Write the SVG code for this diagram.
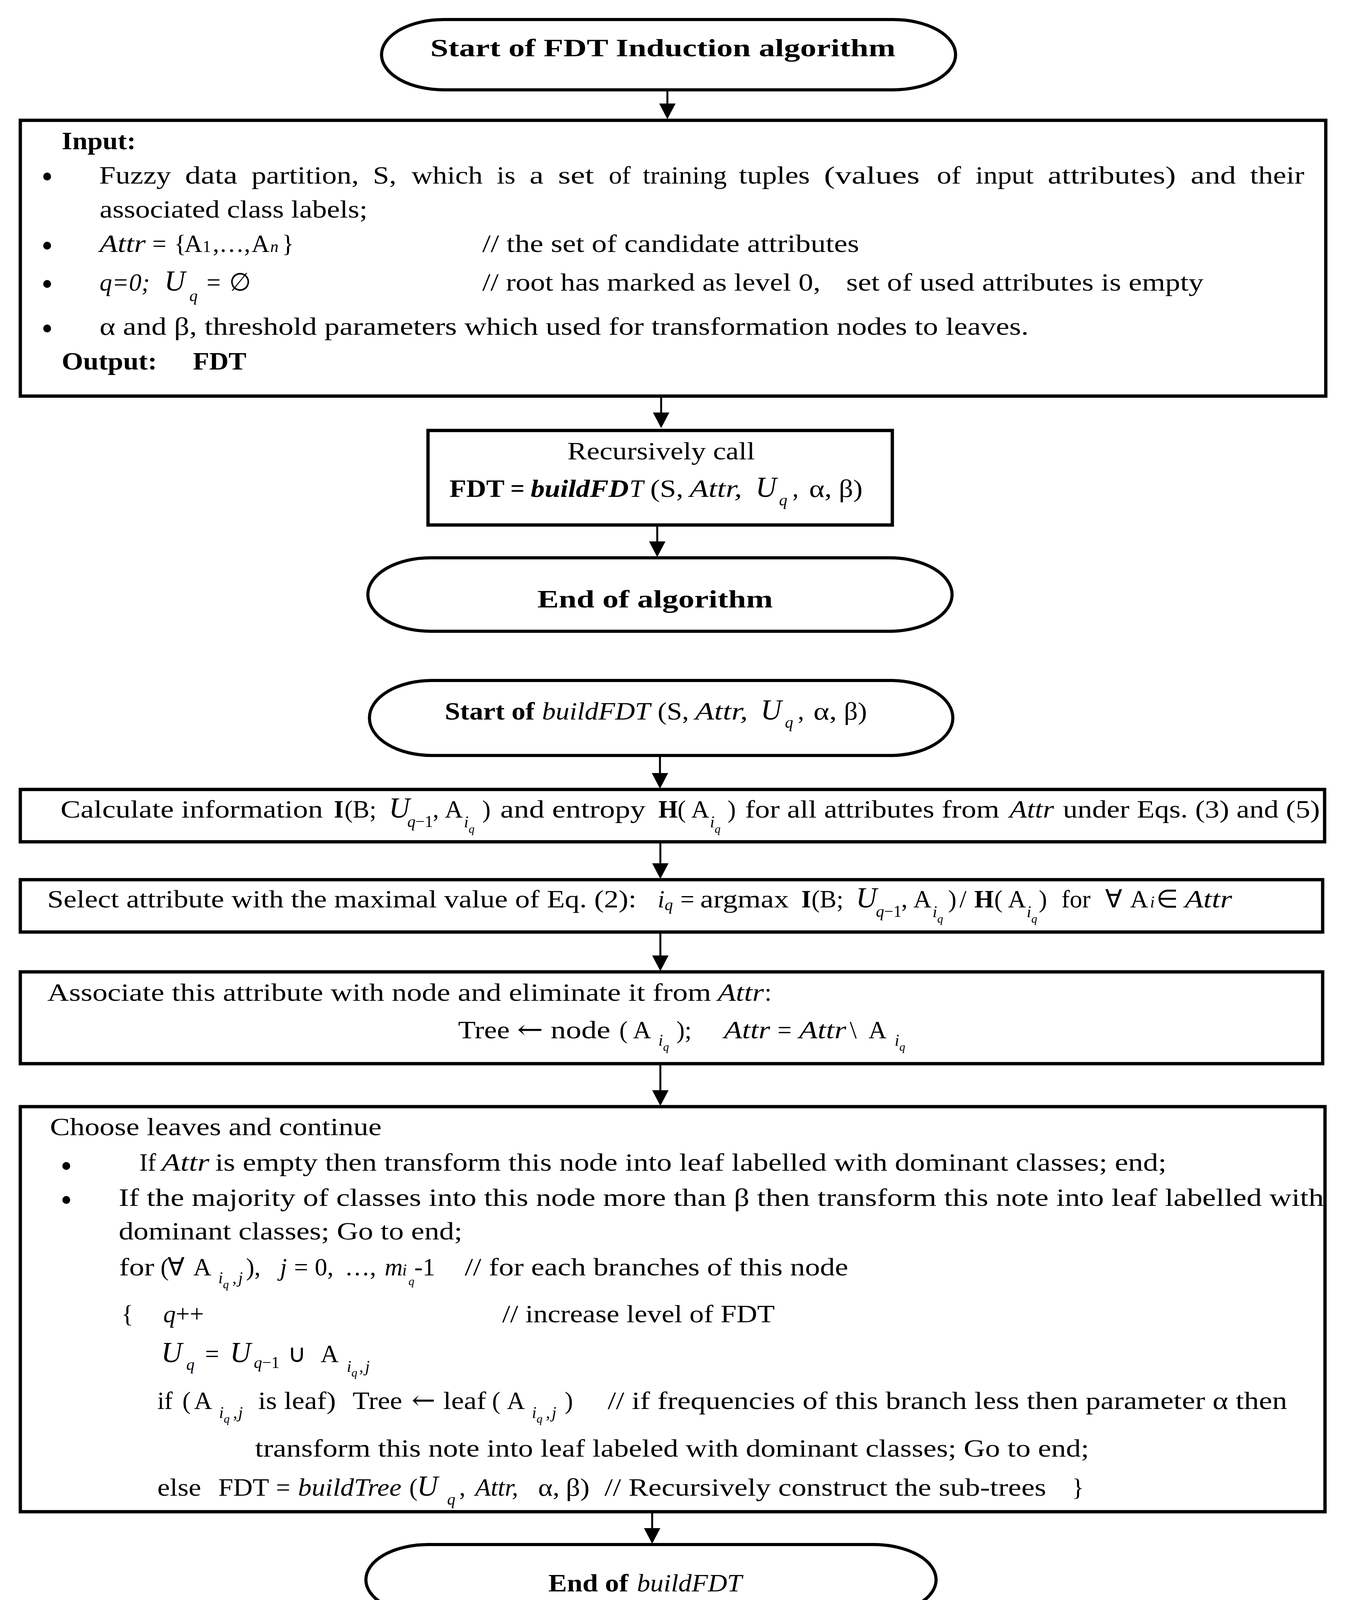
<svg xmlns="http://www.w3.org/2000/svg" width="3457" height="4187" viewBox="0 0 3457 4187">
<defs>
<marker id="ah" markerUnits="userSpaceOnUse" markerWidth="40" markerHeight="42" refX="28" refY="21" orient="auto">
<path d="M0,0 L40,21 L0,42 z" fill="#000"/>
</marker>
<style>
text { font-family: "Liberation Serif", "Times New Roman", serif; font-size: 64px; fill: #000; }
.b { font-weight: bold; }
.i { font-style: italic; }
.bi { font-weight: bold; font-style: italic; }
.s { font-size: 42px; }
.ss { font-size: 30px; }
.U { font-size: 74px; font-style: italic; }
.bul { font-size: 84px; }
.arr { font-family: "DejaVu Serif", "DejaVu Sans", serif; font-size: 66px; }
.box { fill: #fff; stroke: #000; stroke-width: 8.5; }
.term { fill: #fff; stroke: #000; stroke-width: 8; }
.conn { stroke: #000; stroke-width: 5; fill: none; marker-end: url(#ah); }
</style>
</defs>
<rect width="3457" height="4187" fill="#fff"/>

<g id="connectors">
<path class="conn" d="M1709,234 V293"/>
<path class="conn" d="M1693,1018 V1084"/>
<path class="conn" d="M1683,1348 V1414"/>
<path class="conn" d="M1690,1936 V2007"/>
<path class="conn" d="M1691,2159 V2238"/>
<path class="conn" d="M1691,2390 V2474"/>
<path class="conn" d="M1691,2727 V2819"/>
<path class="conn" d="M1670,3874 V3940"/>
</g>

<g id="n1">
<rect class="term" x="977" y="50" width="1470" height="180" rx="160" ry="90"/>
<text class="b" x="1102" y="144" font-size="66" textLength="1191" lengthAdjust="spacingAndGlyphs">Start of FDT Induction algorithm</text>
</g>

<g id="n2">
<rect class="box" x="52" y="308" width="3343" height="706"/>
<text class="b" x="158" y="382" textLength="190" lengthAdjust="spacingAndGlyphs">Input:</text>
<text class="bul" x="106" y="480">•</text>
<g>
<text x="254" y="470" textLength="184" lengthAdjust="spacingAndGlyphs">Fuzzy</text>
<text x="474" y="470" textLength="134" lengthAdjust="spacingAndGlyphs">data</text>
<text x="644" y="470" textLength="275" lengthAdjust="spacingAndGlyphs">partition,</text>
<text x="955" y="470" textLength="60" lengthAdjust="spacingAndGlyphs">S,</text>
<text x="1054" y="470" textLength="182" lengthAdjust="spacingAndGlyphs">which</text>
<text x="1272" y="470" textLength="48" lengthAdjust="spacingAndGlyphs">is</text>
<text x="1356" y="470" textLength="36" lengthAdjust="spacingAndGlyphs">a</text>
<text x="1429" y="470" textLength="92" lengthAdjust="spacingAndGlyphs">set</text>
<text x="1559" y="470" textLength="56" lengthAdjust="spacingAndGlyphs">of</text>
<text x="1646" y="470" textLength="215" lengthAdjust="spacingAndGlyphs">training</text>
<text x="1892" y="470" textLength="182" lengthAdjust="spacingAndGlyphs">tuples</text>
<text x="2110" y="470" textLength="245" lengthAdjust="spacingAndGlyphs">(values</text>
<text x="2399" y="470" textLength="62" lengthAdjust="spacingAndGlyphs">of</text>
<text x="2498" y="470" textLength="149" lengthAdjust="spacingAndGlyphs">input</text>
<text x="2683" y="470" textLength="328" lengthAdjust="spacingAndGlyphs">attributes)</text>
<text x="3049" y="470" textLength="116" lengthAdjust="spacingAndGlyphs">and</text>
<text x="3201" y="470" textLength="139" lengthAdjust="spacingAndGlyphs">their</text>
</g>
<text x="255" y="557" textLength="686" lengthAdjust="spacingAndGlyphs">associated class labels;</text>
<text class="bul" x="106" y="657">•</text>
<text class="i" x="255" y="645" textLength="118" lengthAdjust="spacingAndGlyphs">Attr</text>
<text y="645"><tspan x="390">=</tspan><tspan x="446">{</tspan><tspan x="472">A</tspan><tspan x="519" class="s">1</tspan><tspan x="545">,…,</tspan><tspan x="644">A</tspan><tspan x="692" class="s i">n</tspan><tspan x="722">}</tspan></text>
<text x="1235" y="645" textLength="965" lengthAdjust="spacingAndGlyphs">// the set of candidate attributes</text>
<text class="bul" x="106" y="755">•</text>
<text y="744"><tspan x="255" class="i">q=0;</tspan><tspan x="421" class="U">U</tspan><tspan x="485" y="771" class="s i">q</tspan><tspan x="529" y="744">=</tspan><tspan x="587">∅</tspan></text>
<text x="1235" y="744" textLength="866" lengthAdjust="spacingAndGlyphs">// root has marked as level 0,</text>
<text x="2167" y="744" textLength="915" lengthAdjust="spacingAndGlyphs">set of used attributes is empty</text>
<text class="bul" x="106" y="869">•</text>
<text x="255" y="857" textLength="2379" lengthAdjust="spacingAndGlyphs">α and β, threshold parameters which used for transformation nodes to leaves.</text>
<text class="b" x="158" y="946" textLength="244" lengthAdjust="spacingAndGlyphs">Output:</text>
<text class="b" x="494" y="946" textLength="137" lengthAdjust="spacingAndGlyphs">FDT</text>
</g>

<g id="n3">
<rect class="box" x="1096" y="1102" width="1189" height="242"/>
<text x="1453" y="1176" textLength="480" lengthAdjust="spacingAndGlyphs">Recursively call</text>
<text class="b" x="1151" y="1272" textLength="141" lengthAdjust="spacingAndGlyphs">FDT</text>
<text class="b" x="1307" y="1272">=</text>
<text class="bi" x="1359" y="1272" textLength="251" lengthAdjust="spacingAndGlyphs">buildFD</text>
<text class="i" x="1612" y="1272">T</text>
<text x="1665" y="1272" textLength="85" lengthAdjust="spacingAndGlyphs">(S,</text>
<text class="i" x="1766" y="1272" textLength="134" lengthAdjust="spacingAndGlyphs">Attr,</text>
<text y="1272"><tspan x="1935" class="U">U</tspan><tspan x="1995" y="1294" class="s i">q</tspan><tspan x="2029" y="1272">,</tspan></text>
<text x="2072" y="1272" textLength="58" lengthAdjust="spacingAndGlyphs">α,</text>
<text x="2148" y="1272" textLength="61" lengthAdjust="spacingAndGlyphs">β)</text>
</g>

<g id="n4">
<rect class="term" x="942" y="1428" width="1496" height="188" rx="160" ry="94"/>
<text class="b" x="1376" y="1555" font-size="72" textLength="603" lengthAdjust="spacingAndGlyphs">End of algorithm</text>
</g>

<g id="n5">
<rect class="term" x="946" y="1742" width="1494" height="192" rx="160" ry="96"/>
<text class="b" x="1139" y="1842" textLength="230" lengthAdjust="spacingAndGlyphs">Start of</text>
<text class="i" x="1388" y="1842" textLength="277" lengthAdjust="spacingAndGlyphs">buildFDT</text>
<text x="1684" y="1842" textLength="80" lengthAdjust="spacingAndGlyphs">(S,</text>
<text class="i" x="1780" y="1842" textLength="135" lengthAdjust="spacingAndGlyphs">Attr,</text>
<text y="1842"><tspan x="1948" class="U">U</tspan><tspan x="2010" y="1863" class="s i">q</tspan><tspan x="2043" y="1842">,</tspan></text>
<text x="2083" y="1842" textLength="60" lengthAdjust="spacingAndGlyphs">α,</text>
<text x="2161" y="1842" textLength="59" lengthAdjust="spacingAndGlyphs">β)</text>
</g>

<g id="n6">
<rect class="box" x="52" y="2021" width="3340" height="134"/>
<text x="155" y="2093" textLength="672" lengthAdjust="spacingAndGlyphs">Calculate information</text>
<text y="2093"><tspan x="855" class="b">I</tspan><tspan x="882">(B;</tspan><tspan x="996" class="U">U</tspan><tspan x="1043" y="2117" class="s i">q</tspan><tspan class="s">−1</tspan><tspan x="1108" y="2093">,</tspan><tspan x="1139">A</tspan><tspan x="1188" y="2118" class="s i">i</tspan><tspan x="1200" y="2132" class="ss i">q</tspan><tspan x="1235" y="2093">)</tspan></text>
<text x="1281" y="2093" textLength="372" lengthAdjust="spacingAndGlyphs">and entropy</text>
<text y="2093"><tspan x="1686" class="b">H</tspan><tspan x="1735">(</tspan><tspan x="1770">A</tspan><tspan x="1818" y="2118" class="s i">i</tspan><tspan x="1830" y="2132" class="ss i">q</tspan><tspan x="1863" y="2093">)</tspan></text>
<text x="1908" y="2093" textLength="651" lengthAdjust="spacingAndGlyphs">for all attributes from</text>
<text class="i" x="2585" y="2093" textLength="114" lengthAdjust="spacingAndGlyphs">Attr</text>
<text x="2722" y="2093" textLength="658" lengthAdjust="spacingAndGlyphs">under Eqs. (3) and (5)</text>
</g>

<g id="n7">
<rect class="box" x="52" y="2252" width="3335" height="134"/>
<text x="121" y="2323" textLength="1509" lengthAdjust="spacingAndGlyphs">Select attribute with the maximal value of Eq. (2):</text>
<text y="2323"><tspan x="1684" class="i">i</tspan><tspan x="1702" y="2330" class="s i">q</tspan><tspan x="1742" y="2323">=</tspan></text>
<text x="1793" y="2323" textLength="227" lengthAdjust="spacingAndGlyphs">argmax</text>
<text y="2323"><tspan x="2052" class="b">I</tspan><tspan x="2078">(B;</tspan><tspan x="2192" class="U">U</tspan><tspan x="2243" y="2347" class="s i">q</tspan><tspan class="s">−1</tspan><tspan x="2308" y="2323">,</tspan><tspan x="2339">A</tspan><tspan x="2388" y="2348" class="s i">i</tspan><tspan x="2400" y="2362" class="ss i">q</tspan><tspan x="2428" y="2323">)</tspan><tspan x="2457">/</tspan><tspan x="2495" class="b">H</tspan><tspan x="2546">(</tspan><tspan x="2581">A</tspan><tspan x="2629" y="2348" class="s i">i</tspan><tspan x="2641" y="2362" class="ss i">q</tspan><tspan x="2660" y="2323">)</tspan></text>
<text y="2323"><tspan x="2718">for</tspan><tspan x="2830">∀</tspan><tspan x="2894">A</tspan><tspan x="2945" class="s i">i</tspan><tspan x="2961">∈</tspan></text>
<text class="i" x="3034" y="2323" textLength="121" lengthAdjust="spacingAndGlyphs">Attr</text>
</g>

<g id="n8">
<rect class="box" x="52" y="2488" width="3335" height="235"/>
<text x="121" y="2562" textLength="1700" lengthAdjust="spacingAndGlyphs">Associate this attribute with node and eliminate it from</text>
<text class="i" x="1838" y="2562" textLength="118" lengthAdjust="spacingAndGlyphs">Attr</text>
<text x="1958" y="2562">:</text>
<text x="1173" y="2658" textLength="132" lengthAdjust="spacingAndGlyphs">Tree</text>
<text class="arr" x="1324" y="2658" textLength="67" lengthAdjust="spacingAndGlyphs">←</text>
<text x="1410" y="2658" textLength="153" lengthAdjust="spacingAndGlyphs">node</text>
<text y="2658"><tspan x="1586">(</tspan><tspan x="1621">A</tspan><tspan x="1686" y="2677" class="s i">i</tspan><tspan x="1698" y="2690" class="ss i">q</tspan><tspan x="1732" y="2658">);</tspan></text>
<text class="i" x="1854" y="2658" textLength="118" lengthAdjust="spacingAndGlyphs">Attr</text>
<text x="1991" y="2658">=</text>
<text class="i" x="2046" y="2658" textLength="121" lengthAdjust="spacingAndGlyphs">Attr</text>
<text y="2658"><tspan x="2176">\</tspan><tspan x="2224">A</tspan><tspan x="2291" y="2677" class="s i">i</tspan><tspan x="2303" y="2690" class="ss i">q</tspan></text>
</g>

<g id="n9">
<rect class="box" x="52" y="2833" width="3341" height="1037"/>
<text x="128" y="2906" textLength="849" lengthAdjust="spacingAndGlyphs">Choose leaves and continue</text>
<text class="bul" x="155" y="3013">•</text>
<text x="357" y="2997">If</text>
<text class="i" x="414" y="2997" textLength="122" lengthAdjust="spacingAndGlyphs">Attr</text>
<text x="551" y="2997" textLength="2436" lengthAdjust="spacingAndGlyphs">is empty then transform this node into leaf labelled with dominant classes; end;</text>
<text class="bul" x="155" y="3100">•</text>
<text x="304" y="3087" textLength="3086" lengthAdjust="spacingAndGlyphs">If the majority of classes into this node more than β then transform this note into leaf labelled with</text>
<text x="304" y="3173" textLength="880" lengthAdjust="spacingAndGlyphs">dominant classes; Go to end;</text>
<text x="305" y="3265" textLength="90" lengthAdjust="spacingAndGlyphs">for</text>
<text y="3265"><tspan x="411">(</tspan><tspan x="429">∀</tspan><tspan x="495">A</tspan><tspan x="559" y="3285" class="s i">i</tspan><tspan x="571" y="3298" class="ss i">q</tspan><tspan x="595" y="3285" class="s">,</tspan><tspan x="610" class="s i">j</tspan><tspan x="630" y="3265">),</tspan><tspan x="717" class="i">j</tspan><tspan x="753">=</tspan><tspan x="806">0,</tspan><tspan x="883">…,</tspan><tspan x="985" class="i">m</tspan><tspan x="1030" class="s i">i</tspan><tspan x="1046" y="3290" class="ss i">q</tspan><tspan x="1061" y="3265">-1</tspan></text>
<text x="1190" y="3265" textLength="982" lengthAdjust="spacingAndGlyphs">// for each branches of this node</text>
<text y="3385"><tspan x="311">{</tspan><tspan x="418" class="i">q</tspan><tspan>++</tspan></text>
<text x="1286" y="3385" textLength="698" lengthAdjust="spacingAndGlyphs">// increase level of FDT</text>
<text y="3487"><tspan x="413" class="U">U</tspan><tspan x="477" y="3507" class="s i">q</tspan><tspan x="525" y="3487">=</tspan><tspan x="589" class="U">U</tspan><tspan x="650" y="3502" class="s i">q</tspan><tspan class="s">−1</tspan><tspan x="737" y="3487">∪</tspan><tspan x="821">A</tspan><tspan x="888" y="3512" class="s i">i</tspan><tspan x="900" y="3524" class="ss i">q</tspan><tspan x="920" y="3512" class="s">,</tspan><tspan x="935" class="s i">j</tspan></text>
<text y="3607"><tspan x="403">if</tspan><tspan x="467">(</tspan><tspan x="497">A</tspan><tspan x="561" y="3630" class="s i">i</tspan><tspan x="573" y="3642" class="ss i">q</tspan><tspan x="597" y="3630" class="s">,</tspan><tspan x="610" class="s i">j</tspan></text>
<text x="661" y="3607" textLength="199" lengthAdjust="spacingAndGlyphs">is leaf)</text>
<text x="903" y="3607" textLength="127" lengthAdjust="spacingAndGlyphs">Tree</text>
<text class="arr" x="1054" y="3607" textLength="61" lengthAdjust="spacingAndGlyphs">←</text>
<text x="1135" y="3607" textLength="110" lengthAdjust="spacingAndGlyphs">leaf</text>
<text y="3607"><tspan x="1260">(</tspan><tspan x="1298">A</tspan><tspan x="1362" y="3630" class="s i">i</tspan><tspan x="1374" y="3642" class="ss i">q</tspan><tspan x="1398" y="3630" class="s">,</tspan><tspan x="1413" class="s i">j</tspan><tspan x="1446" y="3607">)</tspan></text>
<text x="1556" y="3607" textLength="1740" lengthAdjust="spacingAndGlyphs">// if frequencies of this branch less then parameter α then</text>
<text x="653" y="3729" textLength="2136" lengthAdjust="spacingAndGlyphs">transform this note into leaf labeled with dominant classes; Go to end;</text>
<text x="403" y="3829" textLength="112" lengthAdjust="spacingAndGlyphs">else</text>
<text x="559" y="3829" textLength="130" lengthAdjust="spacingAndGlyphs">FDT</text>
<text x="707" y="3829">=</text>
<text class="i" x="763" y="3829" textLength="265" lengthAdjust="spacingAndGlyphs">buildTree</text>
<text y="3829"><tspan x="1048">(</tspan><tspan x="1068" class="U" font-size="80">U</tspan><tspan x="1145" y="3852" class="s i">q</tspan><tspan x="1176" y="3829">,</tspan></text>
<text class="i" x="1217" y="3829" textLength="110" lengthAdjust="spacingAndGlyphs">Attr,</text>
<text x="1378" y="3829" textLength="55" lengthAdjust="spacingAndGlyphs">α,</text>
<text x="1449" y="3829" textLength="61" lengthAdjust="spacingAndGlyphs">β)</text>
<text x="1548" y="3829" textLength="1131" lengthAdjust="spacingAndGlyphs">// Recursively construct the sub-trees</text>
<text x="2745" y="3829">}</text>
</g>

<g id="n10">
<rect class="term" x="937" y="3954" width="1460" height="180" rx="160" ry="90"/>
<text class="b" x="1404" y="4074" textLength="205" lengthAdjust="spacingAndGlyphs">End of</text>
<text class="i" x="1631" y="4074" textLength="269" lengthAdjust="spacingAndGlyphs">buildFDT</text>
</g>
</svg>
